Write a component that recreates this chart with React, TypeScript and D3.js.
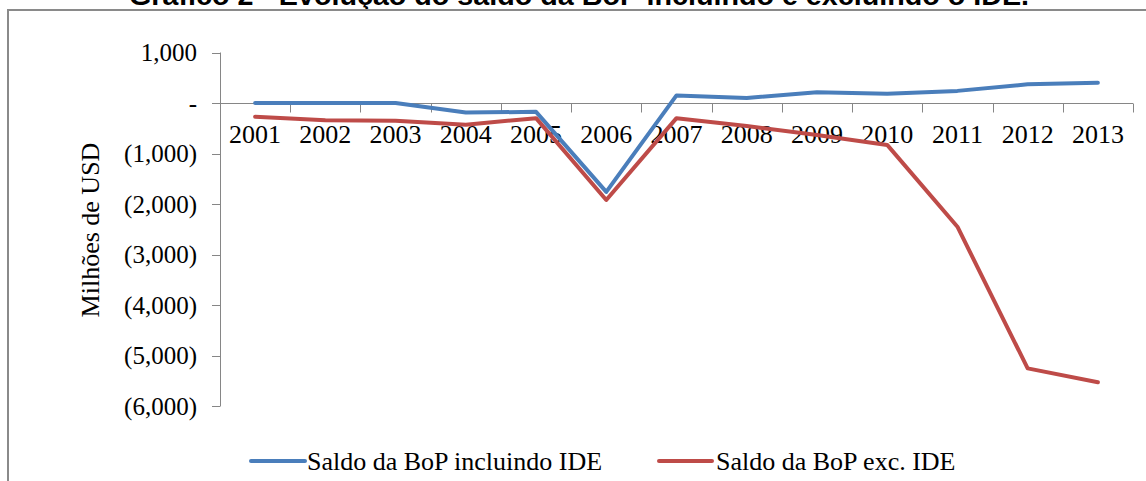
import React from 'react';
import * as d3 from 'd3';

const years = ['2001', '2002', '2003', '2004', '2005', '2006', '2007', '2008', '2009', '2010', '2011', '2012', '2013'];
const saldoIncl = [0, 0, 0, -190, -175, -1760, 150, 100, 215, 185, 240, 370, 400];
const saldoExc = [-270, -340, -350, -430, -300, -1920, -300, -455, -635, -830, -2450, -5255, -5530];
const yTicks = [1000, 0, -1000, -2000, -3000, -4000, -5000, -6000];
const seriesNames = ['Saldo da BoP incluindo IDE', 'Saldo da BoP exc. IDE'];

const W = 1146;
const H = 481;
const serif = '"Liberation Serif", "Times New Roman", serif';
const sans = '"Liberation Sans", Arial, sans-serif';
const axisColor = '#868686';
const colors = ['#4A7EBB', '#BE4B48'];

const fmt = (v: number) => {
  if (v === 0) return '-';
  const s = d3.format(',')(Math.abs(v));
  return v < 0 ? `(${s})` : s;
};

export default function App() {
  const x = d3.scaleBand().domain(years).range([220, 1133]);
  const y = d3.scaleLinear().domain([-6000, 1000]).range([406, 52.5]);
  const cx = (yr: string) => (x(yr) as number) + x.bandwidth() / 2;

  const line = d3.line<number>()
    .x((_, i) => cx(years[i]))
    .y(d => y(d));

  const series = [saldoIncl, saldoExc];
  const legend = [
    { x1: 251, x2: 305, tx: 307 },
    { x1: 659, x2: 712, tx: 716 },
  ];
  const zeroY = Math.round(y(0)) + 0.5;

  return (
    <svg width={W} height={H} style={{ position: 'absolute', left: 0, top: 0 }}>
      <rect x={0} y={0} width={W} height={H} fill="#fff" />
      <text x={129} y={4.5} textLength={900} lengthAdjust="spacingAndGlyphs"
        fontFamily={sans} fontWeight="bold" fontSize={28} fill="#000">
        Gráfico 2 - Evolução do saldo da BoP incluindo e excluindo o IDE.
      </text>
      {/* chart border, clipped on the right and bottom */}
      <rect x={8} y={10} width={1160} height={490} fill="none" stroke="#8a8a8a" strokeWidth={2} />

      {/* y axis */}
      <line x1={220.5} x2={220.5} y1={y(1000)} y2={y(-6000)} stroke={axisColor} />
      {yTicks.map(t => (
        <g key={t}>
          <line x1={212} x2={220.5} y1={Math.round(y(t)) + 0.5} y2={Math.round(y(t)) + 0.5} stroke={axisColor} />
          <text x={197} y={y(t)} dy="0.35em" textAnchor="end" fontFamily={serif} fontSize={25} fill="#000">
            {fmt(t)}
          </text>
        </g>
      ))}
      <text transform="translate(99,230) rotate(-90)" textAnchor="middle" fontFamily={serif} fontSize={26} fill="#000">
        Milhões de USD
      </text>

      {/* x axis at zero */}
      <line x1={220} x2={1133} y1={zeroY} y2={zeroY} stroke={axisColor} />
      {years.concat(['end']).map((yr, i) => {
        const px = Math.round(i < years.length ? (x(yr) as number) : x.range()[1]) + 0.5;
        return <line key={yr} x1={px} x2={px} y1={zeroY} y2={zeroY + 9} stroke={axisColor} />;
      })}
      {years.map(yr => (
        <text key={yr} x={cx(yr)} y={143} textAnchor="middle" fontFamily={serif} fontSize={26} fill="#000">
          {yr}
        </text>
      ))}

      {series.map((s, i) => (
        <path key={i} d={line(s) || ''} fill="none" stroke={colors[i]} strokeWidth={4}
          strokeLinejoin="round" strokeLinecap="round" />
      ))}

      {/* legend */}
      {legend.map((l, i) => (
        <g key={i}>
          <line x1={l.x1} x2={l.x2} y1={461} y2={461} stroke={colors[i]} strokeWidth={4} strokeLinecap="round" />
          <text x={l.tx} y={461} dy="0.35em" fontFamily={serif} fontSize={26} fill="#000">{seriesNames[i]}</text>
        </g>
      ))}
    </svg>
  );
}
